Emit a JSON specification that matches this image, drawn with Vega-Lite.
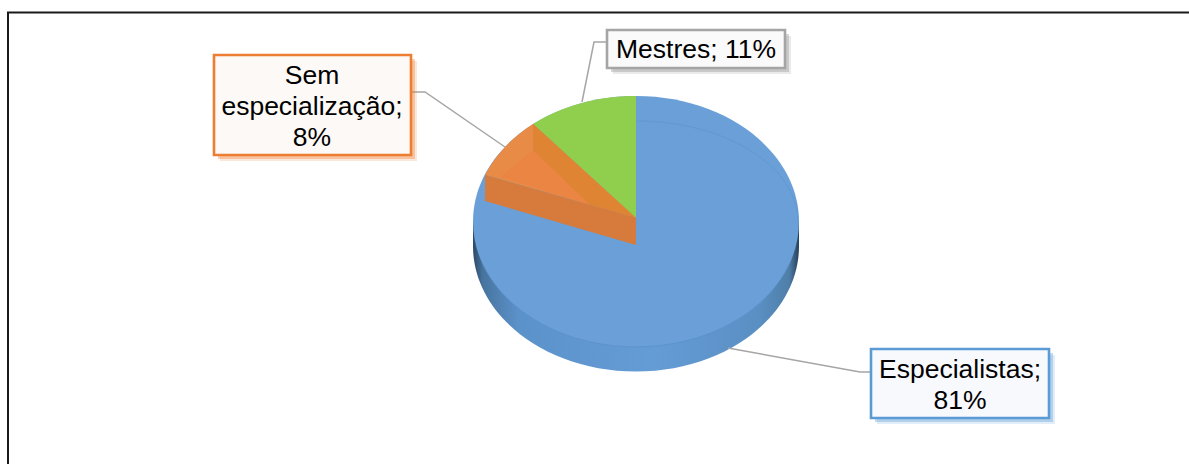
{"$schema":"https://vega.github.io/schema/vega-lite/v6.json","width":1189,"height":464,"padding":0,"autosize":{"type":"none"},"background":"white","config":{"view":{"stroke":null}},"datasets":{"slices":[{"part":"Especialistas","share":81,"label":"Especialistas;\n81%"},{"part":"Sem especialização","share":8,"label":"Sem\nespecialização;\n8%"},{"part":"Mestres","share":11,"label":"Mestres; 11%"}]},"data":{"name":"slices"},"layer":[{"data":{"values":[{"part":"frame"}]},"mark":{"type":"point","filled":false,"opacity":1,"size":4,"stroke":"#1a1a1a","strokeWidth":2,"shape":"M -586.5 232 L -586.5 -219.5 L 594.5 -219.5"}},{"transform":[{"filter":{"field":"part","equal":"Especialistas"}}],"mark":{"type":"point","filled":true,"opacity":1,"size":4,"shape":"M -121.5 -10 L -121.5 14 A 163 125.5 0 0 0 204.5 14 L 204.5 -10 Z","fill":{"x1":0,"y1":0,"x2":1,"y2":0,"gradient":"linear","stops":[{"offset":0,"color":"#2b4866"},{"offset":0.03,"color":"#47749f"},{"offset":0.14,"color":"#5c92ca"},{"offset":0.55,"color":"#649cd6"},{"offset":0.88,"color":"#5a8fc3"},{"offset":0.97,"color":"#4f7ea8"},{"offset":1,"color":"#253f5a"}]}}},{"transform":[{"filter":{"field":"part","equal":"Especialistas"}}],"mark":{"type":"point","filled":true,"opacity":1,"size":4,"fill":"#6a9fd7","shape":"M -121.5 -10.5 A 163 125.5 0 1 1 204.5 -10.5 A 163 125.5 0 1 1 -121.5 -10.5 Z"}},{"transform":[{"filter":{"field":"part","equal":"Especialistas"}}],"mark":{"type":"point","filled":false,"opacity":0.5,"size":4,"stroke":"#5c93cf","strokeWidth":1,"shape":"M 41.5 -111 A 162 101 0 0 1 203.5 -10"}},{"transform":[{"filter":{"field":"part","equal":"Especialistas"}}],"mark":{"type":"point","filled":false,"opacity":0.7,"size":4,"stroke":"#5a90cb","strokeWidth":1,"shape":"M -112.5 30.6 A 163 125.5 0 0 0 195.5 30.6"}},{"transform":[{"filter":{"field":"part","equal":"Mestres"}}],"mark":{"type":"point","filled":true,"opacity":1,"size":4,"fill":"#90cf4e","shape":"M 41.5 -14 L 41.5 -136 A 163 125.5 0 0 0 -61.5 -108 Z"}},{"transform":[{"filter":{"field":"part","equal":"Sem especialização"}}],"mark":{"type":"point","filled":true,"opacity":1,"size":4,"fill":"#e88b46","shape":"M 41.5 -14 L -61.5 -108 A 163 125.5 0 0 0 -109.5 -57 Z"}},{"transform":[{"filter":{"field":"part","equal":"Sem especialização"}}],"mark":{"type":"point","filled":true,"opacity":1,"size":4,"fill":"#ea8543","shape":"M -61.5 -82 L -4.5 -27 L -94.5 -55 Z"}},{"transform":[{"filter":{"field":"part","equal":"Sem especialização"}}],"mark":{"type":"point","filled":true,"opacity":1,"size":4,"fill":"#df8433","shape":"M -61.5 -108 L 41.5 -14 L -4.5 -27 L -61.5 -82 Z"}},{"transform":[{"filter":{"field":"part","equal":"Sem especialização"}}],"mark":{"type":"point","filled":true,"opacity":1,"size":4,"fill":"#d67b3c","shape":"M -109.5 -57 L 41.5 -14 L 41.5 13 L -109.5 -31 Z"}},{"mark":{"type":"point","filled":false,"opacity":1,"size":4,"strokeWidth":1.5},"encoding":{"shape":{"field":"part","type":"nominal","legend":null,"scale":{"domain":["Especialistas","Sem especialização","Mestres"],"range":["M 133.5 116 L 265.5 140 L 276.5 140","M -183.5 -140 L -169.5 -140 L -89.5 -85","M 12.5 -190 L -0.5 -190 L -12.5 -130"]}},"stroke":{"value":"#a5a5a5"}}},{"mark":{"type":"point","filled":true,"opacity":0.18,"size":4},"encoding":{"shape":{"field":"part","type":"nominal","legend":null,"scale":{"domain":["Especialistas","Sem especialização","Mestres"],"range":["M 282.5 123 H 460.5 V 192 H 282.5 Z","M -374.5 -171 H -177.5 V -71 H -374.5 Z","M 18.5 -196 H 196.5 V -158 H 18.5 Z"]}},"fill":{"field":"part","type":"nominal","legend":null,"scale":{"domain":["Especialistas","Sem especialização","Mestres"],"range":["#5b9bd5","#ed7d31","#8c8c8c"]}}}},{"mark":{"type":"point","filled":true,"opacity":0.35,"size":4},"encoding":{"shape":{"field":"part","type":"nominal","legend":null,"scale":{"domain":["Especialistas","Sem especialização","Mestres"],"range":["M 280.5 121 H 458.5 V 190 H 280.5 Z","M -376.5 -173 H -179.5 V -73 H -376.5 Z","M 16.5 -198 H 194.5 V -160 H 16.5 Z"]}},"fill":{"field":"part","type":"nominal","legend":null,"scale":{"domain":["Especialistas","Sem especialização","Mestres"],"range":["#5b9bd5","#ed7d31","#8c8c8c"]}}}},{"mark":{"type":"point","filled":true,"opacity":1,"size":4,"strokeWidth":2.6},"encoding":{"shape":{"field":"part","type":"nominal","legend":null,"scale":{"domain":["Especialistas","Sem especialização","Mestres"],"range":["M 276.5 117 H 454.5 V 186 H 276.5 Z","M -380.5 -177 H -183.5 V -77 H -380.5 Z","M 12.5 -202 H 190.5 V -164 H 12.5 Z"]}},"fill":{"field":"part","type":"nominal","legend":null,"scale":{"domain":["Especialistas","Sem especialização","Mestres"],"range":["#f7f9fd","#fdf9f6","#fafafa"]}},"stroke":{"field":"part","type":"nominal","legend":null,"scale":{"domain":["Especialistas","Sem especialização","Mestres"],"range":["#5b9bd5","#ed7d31","#a5a5a5"]}}}},{"mark":{"type":"text","font":"Liberation Sans","fontSize":26.5,"color":"#000000","align":"center","baseline":"middle","lineBreak":"\n","lineHeight":31},"encoding":{"x":{"field":"share","type":"quantitative","axis":null,"scale":{"domain":[8,11,81],"range":[312,696,960]}},"y":{"field":"share","type":"quantitative","axis":null,"scale":{"domain":[8,11,81],"range":[76,50,370]}},"text":{"field":"label","type":"nominal"}}}],"resolve":{"scale":{"shape":"independent","fill":"independent","stroke":"independent"}}}
